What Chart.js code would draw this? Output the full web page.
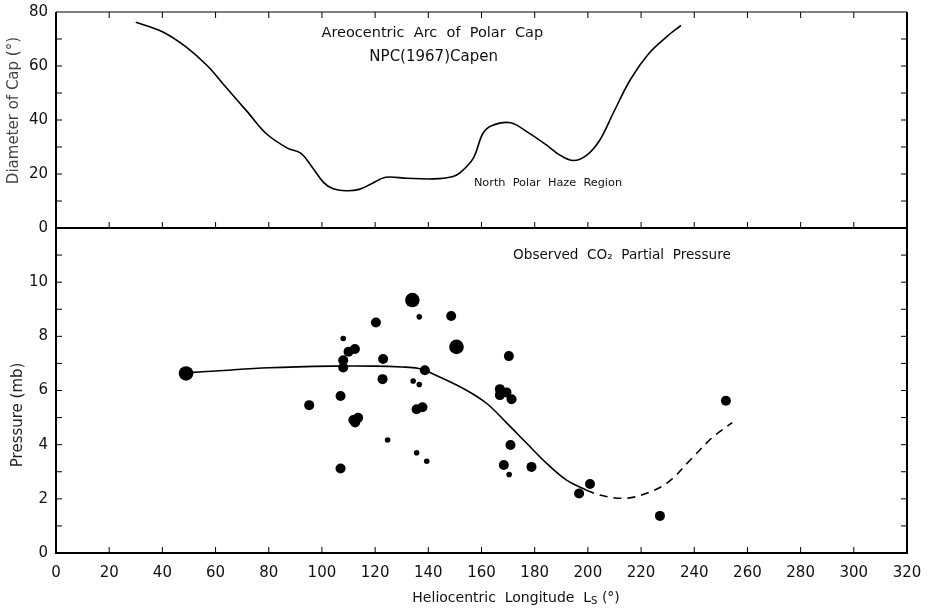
<!DOCTYPE html>
<html>
<head>
<meta charset="utf-8">
<script src="https://cdn.jsdelivr.net/npm/chart.js@4.4.1/dist/chart.umd.min.js"></script>
<style>
  html, body { margin: 0; padding: 0; background: #fff; }
</style>
</head>
<body>
<canvas id="marsChart" width="930" height="612"></canvas>
<script>
// Top panel: areocentric arc of the north polar cap, NPC (1967) Capen
const capLs = [30, 40, 49, 57, 64, 72, 79, 87, 92, 96, 100.5, 104, 109, 114, 119, 124, 132, 142, 149, 152, 157, 160.5, 164, 171, 177, 184.5, 189.5, 194.5, 199.6, 204.5, 209.5, 216, 223, 229.7, 235];
const capDiameter = [76.2, 72.7, 67, 60, 52, 43, 35, 29.6, 27.7, 23, 17, 14.6, 13.8, 14.3, 16.6, 18.8, 18.4, 18.2, 19, 20.5, 26, 35, 38, 39, 35.7, 30.7, 27, 25, 27, 32.6, 42.5, 55, 64.7, 70.9, 75];

// Bottom panel: observed CO2 partial pressure (weight 1 = small, 2 = medium, 3 = large dot)
const obsLs = [48.9, 95.2, 107, 107, 108, 108, 108, 110, 112.4, 111.8, 113.6, 112.5, 120.3, 123, 122.8, 124.7, 134, 136.6, 134.3, 136.6, 135.6, 137.8, 135.6, 139.4, 138.7, 148.6, 150.6, 170.3, 166.9, 169.4, 166.9, 171.3, 170.9, 168.4, 170.4, 178.8, 196.7, 200.8, 227.1, 251.9];
const obsPressure = [6.63, 5.46, 5.80, 3.12, 7.92, 7.12, 6.85, 7.43, 7.53, 4.91, 4.99, 4.82, 8.51, 7.16, 6.42, 4.17, 9.34, 8.72, 6.35, 6.22, 5.31, 5.38, 3.70, 3.39, 6.75, 8.75, 7.61, 7.27, 6.05, 5.93, 5.83, 5.68, 3.99, 3.25, 2.90, 3.18, 2.20, 2.55, 1.37, 5.62];
const obsWeight = [3, 2, 2, 2, 1, 2, 2, 2, 2, 2, 2, 2, 2, 2, 2, 1, 3, 1, 1, 1, 2, 2, 1, 1, 2, 2, 3, 2, 2, 2, 2, 2, 2, 2, 1, 2, 2, 2, 2, 2];

// Fitted curve: solid part and dashed extrapolation
const fitLs = [50, 60, 80, 104, 120, 130, 136, 142, 154, 162, 169, 177, 184.5, 192, 199.5];
const fitPressure = [6.66, 6.72, 6.84, 6.9, 6.9, 6.87, 6.82, 6.6, 6.03, 5.52, 4.85, 4.05, 3.31, 2.69, 2.32];
const dashLs = [199.5, 204.5, 212.5, 219.5, 229.6, 239.6, 247.1, 254.3];
const dashPressure = [2.32, 2.14, 2.02, 2.12, 2.57, 3.55, 4.29, 4.81];

const lsTicks = [0, 20, 40, 60, 80, 100, 120, 140, 160, 180, 200, 220, 240, 260, 280, 300, 320];
const capTicks = [0, 20, 40, 60, 80];
const pressureTicks = [0, 2, 4, 6, 8, 10];

const dotRadius = [0, 2.8, 5, 7.3];
const pts = (xs, ys) => xs.map((x, i) => ({ x, y: ys[i] }));

const FONT = "'DejaVu Sans', sans-serif";
Chart.defaults.font.family = FONT;
Chart.defaults.color = '#111';

const panelFrame = {
  id: 'panelFrame',
  afterDatasetsDraw(chart) {
    const { ctx, chartArea: a, scales } = chart;
    const x = scales.x, yCap = scales.yCap, yP = scales.yP;
    const mid = yCap.bottom;
    const len = 6;
    ctx.save();
    ctx.strokeStyle = '#000';
    ctx.lineWidth = 2;
    ctx.beginPath();
    ctx.moveTo(a.left, a.top);
    ctx.lineTo(a.left, a.bottom);
    ctx.lineTo(a.right, a.bottom);
    ctx.lineTo(a.right, a.top);
    ctx.moveTo(a.left, mid);
    ctx.lineTo(a.right, mid);
    ctx.stroke();
    ctx.lineWidth = 1.2;
    ctx.beginPath();
    ctx.moveTo(a.left, a.top);
    ctx.lineTo(a.right, a.top);
    ctx.stroke();

    ctx.lineWidth = 1;
    ctx.beginPath();
    lsTicks.slice(1, -1).forEach(v => {
      const px = x.getPixelForValue(v);
      ctx.moveTo(px, a.bottom); ctx.lineTo(px, a.bottom - len);
      ctx.moveTo(px, mid); ctx.lineTo(px, mid - len);
      ctx.moveTo(px, a.top); ctx.lineTo(px, a.top + len);
    });
    for (let v = 10; v < 80; v += 10) {
      const py = yCap.getPixelForValue(v);
      ctx.moveTo(a.left, py); ctx.lineTo(a.left + len, py);
      ctx.moveTo(a.right, py); ctx.lineTo(a.right - len, py);
    }
    for (let v = 1; v < 12; v++) {
      const py = yP.getPixelForValue(v);
      ctx.moveTo(a.left, py); ctx.lineTo(a.left + len, py);
      ctx.moveTo(a.right, py); ctx.lineTo(a.right - len, py);
    }
    ctx.stroke();

    // panel captions
    ctx.fillStyle = '#111';
    ctx.textAlign = 'center';
    ctx.textBaseline = 'middle';
    const notes = [
      ['Areocentric  Arc  of  Polar  Cap', 141.5, yCap, 72.2, 14.5],
      ['NPC(1967)Capen', 142, yCap, 63.2, 15],
      ['North  Polar  Haze  Region', 185, yCap, 16.7, 11.3],
      ['Observed  CO₂  Partial  Pressure', 212.8, yP, 11.0, 13.6]
    ];
    notes.forEach(([text, lx, ys, vy, size]) => {
      ctx.font = size + 'px ' + FONT;
      ctx.fillText(text, x.getPixelForValue(lx), ys.getPixelForValue(vy));
    });

    // axis titles
    const main = 'Heliocentric  Longitude  L';
    const tail = ' (°)';
    ctx.font = '14px ' + FONT;
    const wMain = ctx.measureText(main).width;
    const wTail = ctx.measureText(tail).width;
    ctx.font = '10px ' + FONT;
    const wSub = ctx.measureText('S').width;
    const total = wMain + wSub + wTail;
    const tx = x.getPixelForValue(173) - total / 2;
    const ty = a.bottom + 45;
    ctx.textAlign = 'left';
    ctx.font = '14px ' + FONT;
    ctx.fillText(main, tx, ty);
    ctx.font = '10px ' + FONT;
    ctx.fillText('S', tx + wMain, ty + 3);
    ctx.font = '14px ' + FONT;
    ctx.fillText(tail, tx + wMain + wSub, ty);

    ctx.textAlign = 'center';
    const vTitle = (text, cx, cy, size, color) => {
      ctx.save();
      ctx.translate(cx, cy);
      ctx.rotate(-Math.PI / 2);
      ctx.font = size + 'px ' + FONT;
      ctx.fillStyle = color;
      ctx.fillText(text, 0, 0);
      ctx.restore();
    };
    vTitle('Diameter of Cap (°)', 14, yCap.getPixelForValue(43.5), 15, '#444');
    vTitle('Pressure (mb)', 18, yP.getPixelForValue(5.1), 15, '#222');
    ctx.restore();
  }
};

const noOverflow = s => { s.paddingTop = 0; s.paddingBottom = 0; s.paddingLeft = 0; s.paddingRight = 0; };

new Chart(document.getElementById('marsChart'), {
  type: 'scatter',
  data: {
    datasets: [
      {
        label: 'Cap diameter',
        data: pts(capLs, capDiameter),
        yAxisID: 'yCap',
        showLine: true,
        borderColor: '#000',
        borderWidth: 1.6,
        pointRadius: 0,
        tension: 0.35
      },
      {
        label: 'Fit',
        data: pts(fitLs, fitPressure),
        yAxisID: 'yP',
        showLine: true,
        borderColor: '#000',
        borderWidth: 1.6,
        pointRadius: 0,
        tension: 0.35
      },
      {
        label: 'Fit (extrapolated)',
        data: pts(dashLs, dashPressure),
        yAxisID: 'yP',
        showLine: true,
        borderColor: '#000',
        borderWidth: 1.6,
        borderDash: [8, 6],
        pointRadius: 0,
        tension: 0.35
      },
      {
        label: 'Observed CO2 partial pressure',
        data: pts(obsLs, obsPressure),
        yAxisID: 'yP',
        backgroundColor: '#000',
        borderWidth: 0,
        pointRadius: obsWeight.map(w => dotRadius[w])
      }
    ]
  },
  options: {
    responsive: false,
    animation: false,
    devicePixelRatio: 1,
    layout: { padding: { top: 12, right: 23, left: 0, bottom: 0 } },
    scales: {
      x: {
        type: 'linear',
        position: 'bottom',
        min: 0,
        max: 320,
        afterBuildTicks: s => { s.ticks = lsTicks.map(v => ({ value: v })); },
        ticks: { padding: 11, font: { size: 15 }, maxRotation: 0, autoSkip: false },
        grid: { display: false, drawTicks: false },
        border: { display: false },
        afterFit: s => { s.height = 59; noOverflow(s); }
      },
      yP: {
        type: 'linear',
        position: 'left',
        stack: 'panels',
        stackWeight: 325,
        min: 0,
        max: 12,
        afterBuildTicks: s => { s.ticks = pressureTicks.map(v => ({ value: v })); },
        ticks: { padding: 8, font: { size: 15 } },
        grid: { display: false, drawTicks: false },
        border: { display: false },
        afterFit: s => { s.width = 56; noOverflow(s); }
      },
      yCap: {
        type: 'linear',
        position: 'left',
        stack: 'panels',
        stackWeight: 216,
        min: 0,
        max: 80,
        afterBuildTicks: s => { s.ticks = capTicks.map(v => ({ value: v })); },
        ticks: { padding: 8, font: { size: 15 } },
        grid: { display: false, drawTicks: false },
        border: { display: false },
        afterFit: s => { s.width = 56; noOverflow(s); }
      }
    },
    plugins: {
      legend: { display: false },
      tooltip: { enabled: false }
    }
  },
  plugins: [panelFrame]
});
</script>
</body>
</html>
